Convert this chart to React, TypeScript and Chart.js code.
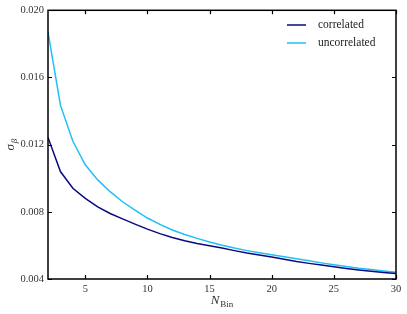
import React, { useEffect, useRef } from "react";
import { Chart, registerables } from "chart.js";

Chart.register(...registerables);

const nBins = [2, 3, 4, 5, 6, 7, 8, 9, 10, 11, 12, 13, 14, 15, 16, 17, 18, 19, 20, 21, 22, 23, 24, 25, 26, 27, 28, 29, 30];
const correlated = [0.01243, 0.0104, 0.0094, 0.0088, 0.0083, 0.0079, 0.00758, 0.00727, 0.00697, 0.0067, 0.00647, 0.00628, 0.00612, 0.00598, 0.00584, 0.00569, 0.00555, 0.00543, 0.00531, 0.00517, 0.00504, 0.00493, 0.00483, 0.00473, 0.00463, 0.00454, 0.00446, 0.00439, 0.00432];
const uncorrelated = [0.0187, 0.01435, 0.0122, 0.0108, 0.0099, 0.0092, 0.0086, 0.0081, 0.00763, 0.00725, 0.00692, 0.00665, 0.00642, 0.0062, 0.00601, 0.00584, 0.00569, 0.00556, 0.00544, 0.00532, 0.0052, 0.00508, 0.00496, 0.00485, 0.00474, 0.00464, 0.00456, 0.00448, 0.0044];
const xTicks = [5, 10, 15, 20, 25, 30];
const yTicks = [0.004, 0.008, 0.012, 0.016, 0.02];
const seriesLabels = ["correlated", "uncorrelated"];
const seriesColors = ["#0a0a80", "#1ec0f5"];

const SERIF = "'Liberation Serif', 'DejaVu Serif', serif";

const framePlugin = {
  id: "frame",
  afterDatasetsDraw(chart: any) {
    const { ctx, chartArea: a, scales } = chart;
    ctx.save();
    ctx.strokeStyle = "#000";
    ctx.lineWidth = 1.2;
    const tl = 4;
    ctx.beginPath();
    xTicks.forEach((v) => {
      const x = Math.round(scales.x.getPixelForValue(v)) + 0.5;
      ctx.moveTo(x, a.bottom);
      ctx.lineTo(x, a.bottom - tl);
      ctx.moveTo(x, a.top);
      ctx.lineTo(x, a.top + tl);
    });
    yTicks.forEach((v) => {
      const y = Math.round(scales.y.getPixelForValue(v)) + 0.5;
      ctx.moveTo(a.left, y);
      ctx.lineTo(a.left + tl, y);
      ctx.moveTo(a.right, y);
      ctx.lineTo(a.right - tl, y);
    });
    ctx.stroke();
    ctx.lineWidth = 1.5;
    ctx.strokeRect(a.left, a.top, a.right - a.left, a.bottom - a.top);

    // legend
    ctx.textBaseline = "middle";
    ctx.textAlign = "left";
    ctx.font = `11.5px ${SERIF}`;
    chart.data.datasets.forEach((ds: any, i: number) => {
      const y = 25 + i * 18;
      ctx.strokeStyle = ds.borderColor;
      ctx.lineWidth = 1.5;
      ctx.beginPath();
      ctx.moveTo(287, y);
      ctx.lineTo(306, y);
      ctx.stroke();
      ctx.fillStyle = "#222";
      ctx.fillText(ds.label, 318, y);
    });

    // x title N_Bin
    ctx.fillStyle = "#333";
    ctx.textBaseline = "alphabetic";
    ctx.font = `italic 13px ${SERIF}`;
    const cx = (a.left + a.right) / 2;
    const nW = ctx.measureText("N").width;
    ctx.font = `9px ${SERIF}`;
    const bW = ctx.measureText("Bin").width;
    const x0 = cx - (nW + bW + 1) / 2;
    ctx.font = `italic 13px ${SERIF}`;
    ctx.fillText("N", x0, 304);
    ctx.font = `9px ${SERIF}`;
    ctx.fillText("Bin", x0 + nW + 1, 307);

    // y title sigma_beta
    ctx.save();
    ctx.translate(14, (a.top + a.bottom) / 2);
    ctx.rotate(-Math.PI / 2);
    ctx.font = `italic 13px ${SERIF}`;
    const sW = ctx.measureText("σ").width;
    ctx.font = `italic 9px ${SERIF}`;
    const betaW = ctx.measureText("β").width;
    const sx = -(sW + betaW + 1) / 2;
    ctx.font = `italic 13px ${SERIF}`;
    ctx.fillText("σ", sx, 0);
    ctx.font = `italic 9px ${SERIF}`;
    ctx.fillText("β", sx + sW + 1, 3);
    ctx.restore();

    ctx.restore();
  },
};

export default function App() {
  const ref = useRef<HTMLCanvasElement | null>(null);
  useEffect(() => {
    if (!ref.current) return;
    const chart = new Chart(ref.current, {
      type: "line",
      data: {
        labels: nBins,
        datasets: [
          {
            label: seriesLabels[0],
            data: nBins.map((x, i) => ({ x, y: correlated[i] })),
            borderColor: seriesColors[0],
            backgroundColor: seriesColors[0],
            borderWidth: 1.5,
            pointRadius: 0,
            tension: 0,
          },
          {
            label: seriesLabels[1],
            data: nBins.map((x, i) => ({ x, y: uncorrelated[i] })),
            borderColor: seriesColors[1],
            backgroundColor: seriesColors[1],
            borderWidth: 1.5,
            pointRadius: 0,
            tension: 0,
          },
        ],
      },
      options: {
        animation: false,
        responsive: false,
        layout: { padding: { top: 10, right: 11, left: 0, bottom: 0 } },
        plugins: { legend: { display: false }, tooltip: { enabled: false } },
        scales: {
          x: {
            type: "linear",
            min: 2,
            max: 30,
            grid: { display: false, drawTicks: false },
            border: { display: false },
            afterBuildTicks: (s: any) => {
              s.ticks = xTicks.map((v) => ({ value: v }));
            },
            afterFit: (s: any) => {
              s.height = 35;
            },
            ticks: {
              color: "#333",
              padding: 4,
              font: { family: SERIF, size: 10.5 },
              callback: (v: any) => String(v),
            },
          },
          y: {
            type: "linear",
            min: 0.004,
            max: 0.02,
            grid: { display: false, drawTicks: false },
            border: { display: false },
            afterBuildTicks: (s: any) => {
              s.ticks = yTicks.map((v) => ({ value: v }));
            },
            afterFit: (s: any) => {
              s.width = 48;
            },
            ticks: {
              color: "#333",
              padding: 4,
              font: { family: SERIF, size: 10.5 },
              callback: (v: any) => Number(v).toFixed(3),
            },
          },
        },
      },
      plugins: [framePlugin],
    });
    return () => chart.destroy();
  }, []);
  return (
    <div style={{ position: "fixed", left: 0, top: 0, width: 407, height: 314, background: "#fff" }}>
      <canvas ref={ref} width={407} height={314} style={{ width: 407, height: 314, display: "block" }} />
    </div>
  );
}
